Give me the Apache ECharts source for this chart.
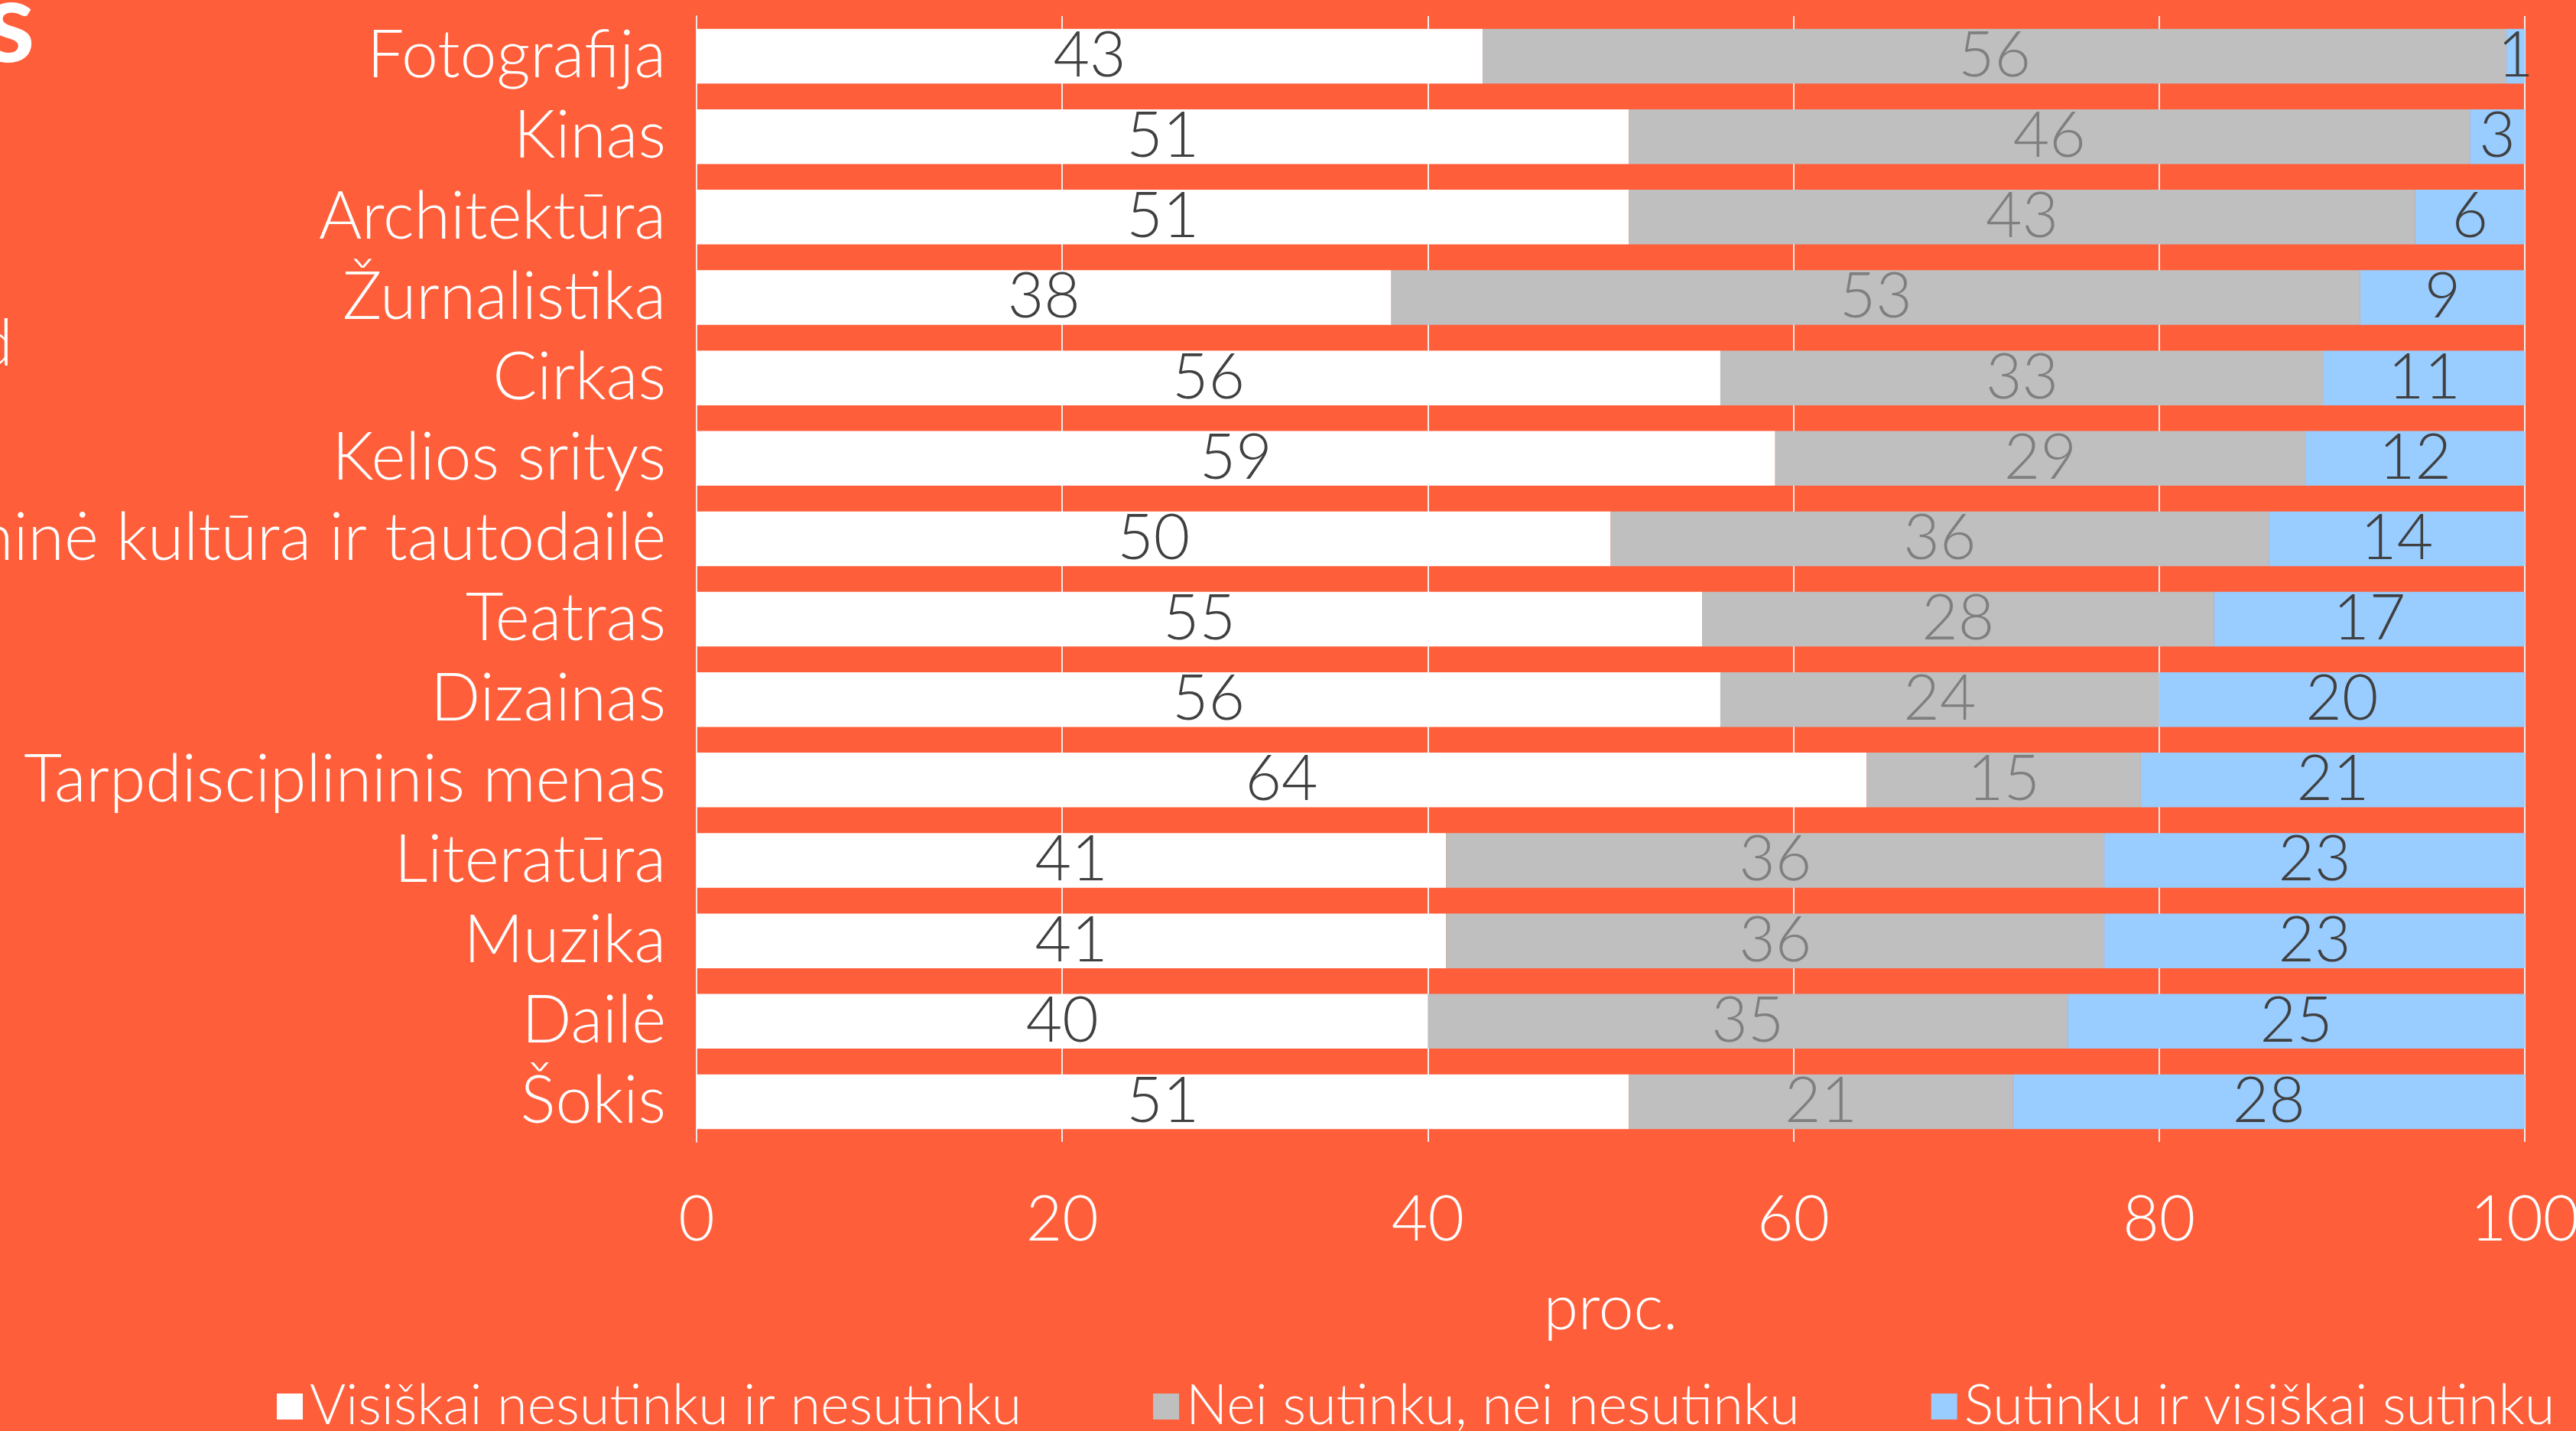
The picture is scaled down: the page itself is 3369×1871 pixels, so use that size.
<!DOCTYPE html>
<html>
<head>
<meta charset="utf-8">
<script src="https://cdn.jsdelivr.net/npm/echarts@6/dist/echarts.min.js"></script>
<style>
  html, body { margin: 0; padding: 0; background: #FF5E3A; }
  #chart { width: 3369px; height: 1871px; }
</style>
</head>
<body>
<div id="chart"></div>
<script>
// sritys (iš viršaus į apačią)
var categories = ['Fotografija', 'Kinas', 'Architektūra', 'Žurnalistika', 'Cirkas', 'Kelios sritys',
  'Etninė kultūra ir tautodailė', 'Teatras', 'Dizainas', 'Tarpdisciplininis menas',
  'Literatūra', 'Muzika', 'Dailė', 'Šokis'];
var disagree = [43, 51, 51, 38, 56, 59, 50, 55, 56, 64, 41, 41, 40, 51];
var neutral  = [56, 46, 43, 53, 33, 29, 36, 28, 24, 15, 36, 36, 35, 21];
var agree    = [1, 3, 6, 9, 11, 12, 14, 17, 20, 21, 23, 23, 25, 28];
var seriesNames = ['Visiškai nesutinku ir nesutinku', 'Nei sutinku, nei nesutinku', 'Sutinku ir visiškai sutinku'];
var xTicks = [0, 20, 40, 60, 80, 100];

var font = 'Lato';
var weight = 300;
var chart = echarts.init(document.getElementById('chart'));

function barSeries(name, data, color, labelColor) {
  return {
    name: name,
    type: 'bar',
    stack: 'total',
    barCategoryGap: '32%',
    data: data,
    itemStyle: { color: color },
    label: {
      show: true,
      position: 'inside',
      color: labelColor,
      fontFamily: font,
      fontWeight: weight,
      fontSize: 82
    }
  };
}

var option = {
  backgroundColor: '#FF5E3A',
  animation: false,
  grid: { left: 911, right: 67, top: 21, bottom: 378, outerBoundsMode: 'none' },
  legend: {
    left: 357,
    top: 1798,
    itemWidth: 34,
    itemHeight: 34,
    itemGap: 172,
    icon: 'rect',
    textStyle: { color: '#fff', fontFamily: font, fontWeight: weight, fontSize: 72, padding: [0, 0, 0, 4] },
    data: seriesNames
  },
  xAxis: {
    type: 'value',
    min: xTicks[0],
    max: xTicks[xTicks.length - 1],
    interval: 20,
    name: 'proc.',
    nameLocation: 'middle',
    nameGap: 178,
    nameTextStyle: { color: '#fff', fontFamily: font, fontWeight: weight, fontSize: 82 },
    axisLine: { show: false },
    axisTick: { show: false },
    axisLabel: { color: '#fff', fontFamily: font, fontWeight: weight, fontSize: 82, margin: 62 },
    splitLine: { show: true, lineStyle: { color: '#EDEDED', width: 2 } }
  },
  yAxis: {
    type: 'category',
    inverse: true,
    data: categories,
    axisLine: { show: true, lineStyle: { color: '#E6E6E6', width: 2 } },
    axisTick: { show: false },
    axisLabel: { interval: 0, color: '#fff', fontFamily: font, fontWeight: weight, fontSize: 86, margin: 40 }
  },
  series: [
    barSeries(seriesNames[0], disagree, '#FFFFFF', '#404040'),
    barSeries(seriesNames[1], neutral, '#BFBFBF', '#7F7F7F'),
    barSeries(seriesNames[2], agree, '#99CCFF', '#404040')
  ],
  // antraštės likučiai kairiame krašte
  graphic: [
    { type: 'text', left: -20, top: -42, style: { text: 's', fill: '#fff', font: 'bold 150px ' + font } },
    { type: 'text', left: -30, top: 408, style: { text: 'd', fill: '#fff', font: weight + ' 85px ' + font } }
  ]
};

chart.setOption(option);
</script>
</body>
</html>
